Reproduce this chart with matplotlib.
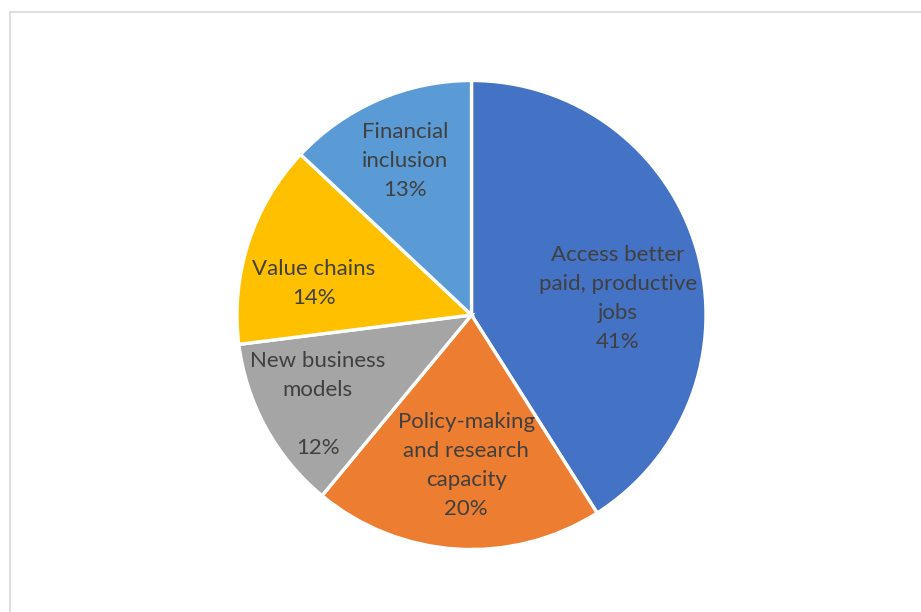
import matplotlib
matplotlib.use("Agg")
import matplotlib.pyplot as plt
from matplotlib.patches import Rectangle

categories = [
    "Access better\npaid, productive\njobs",
    "Policy-making\nand research\ncapacity",
    "New business\nmodels\n",
    "Value chains",
    "Financial\ninclusion",
]
shares = [41, 20, 12, 14, 13]
colors = ["#4472C4", "#ED7D31", "#A5A5A5", "#FFC000", "#5B9BD5"]

# label anchor offsets, in units of the pie radius
label_offsets = [(0.625, 0.072), (-0.023, -0.640), (-0.655, -0.382),
                 (-0.672, 0.136), (-0.284, 0.657)]

W, H = 921, 612
fig = plt.figure(figsize=(W / 100, H / 100), dpi=100)
fig.patch.set_facecolor("white")

# chart-area frame
fig.add_artist(Rectangle((9.5 / W, -0.2), 2.0, 1 - 11.5 / H + 0.2,
                         transform=fig.transFigure, fill=False,
                         edgecolor="#d9d9d9", linewidth=1.2))

cx, cy, r = 471.5, 315, 234.5
ax = fig.add_axes([(cx - r) / W, (H - cy - r) / H, 2 * r / W, 2 * r / H])
ax.pie(shares, colors=colors, startangle=90, counterclock=False,
       wedgeprops=dict(edgecolor="white", linewidth=2.4))
ax.set_xlim(-1, 1)
ax.set_ylim(-1, 1)
ax.set_aspect("equal")
ax.axis("off")

for name, val, (dx, dy) in zip(categories, shares, label_offsets):
    ax.text(dx, dy, f"{name}\n{val}%", ha="center", va="center",
            fontsize=16, family="Lato", color="#404040", linespacing=1.56)

fig.savefig("out.png", dpi=100, facecolor="white")
